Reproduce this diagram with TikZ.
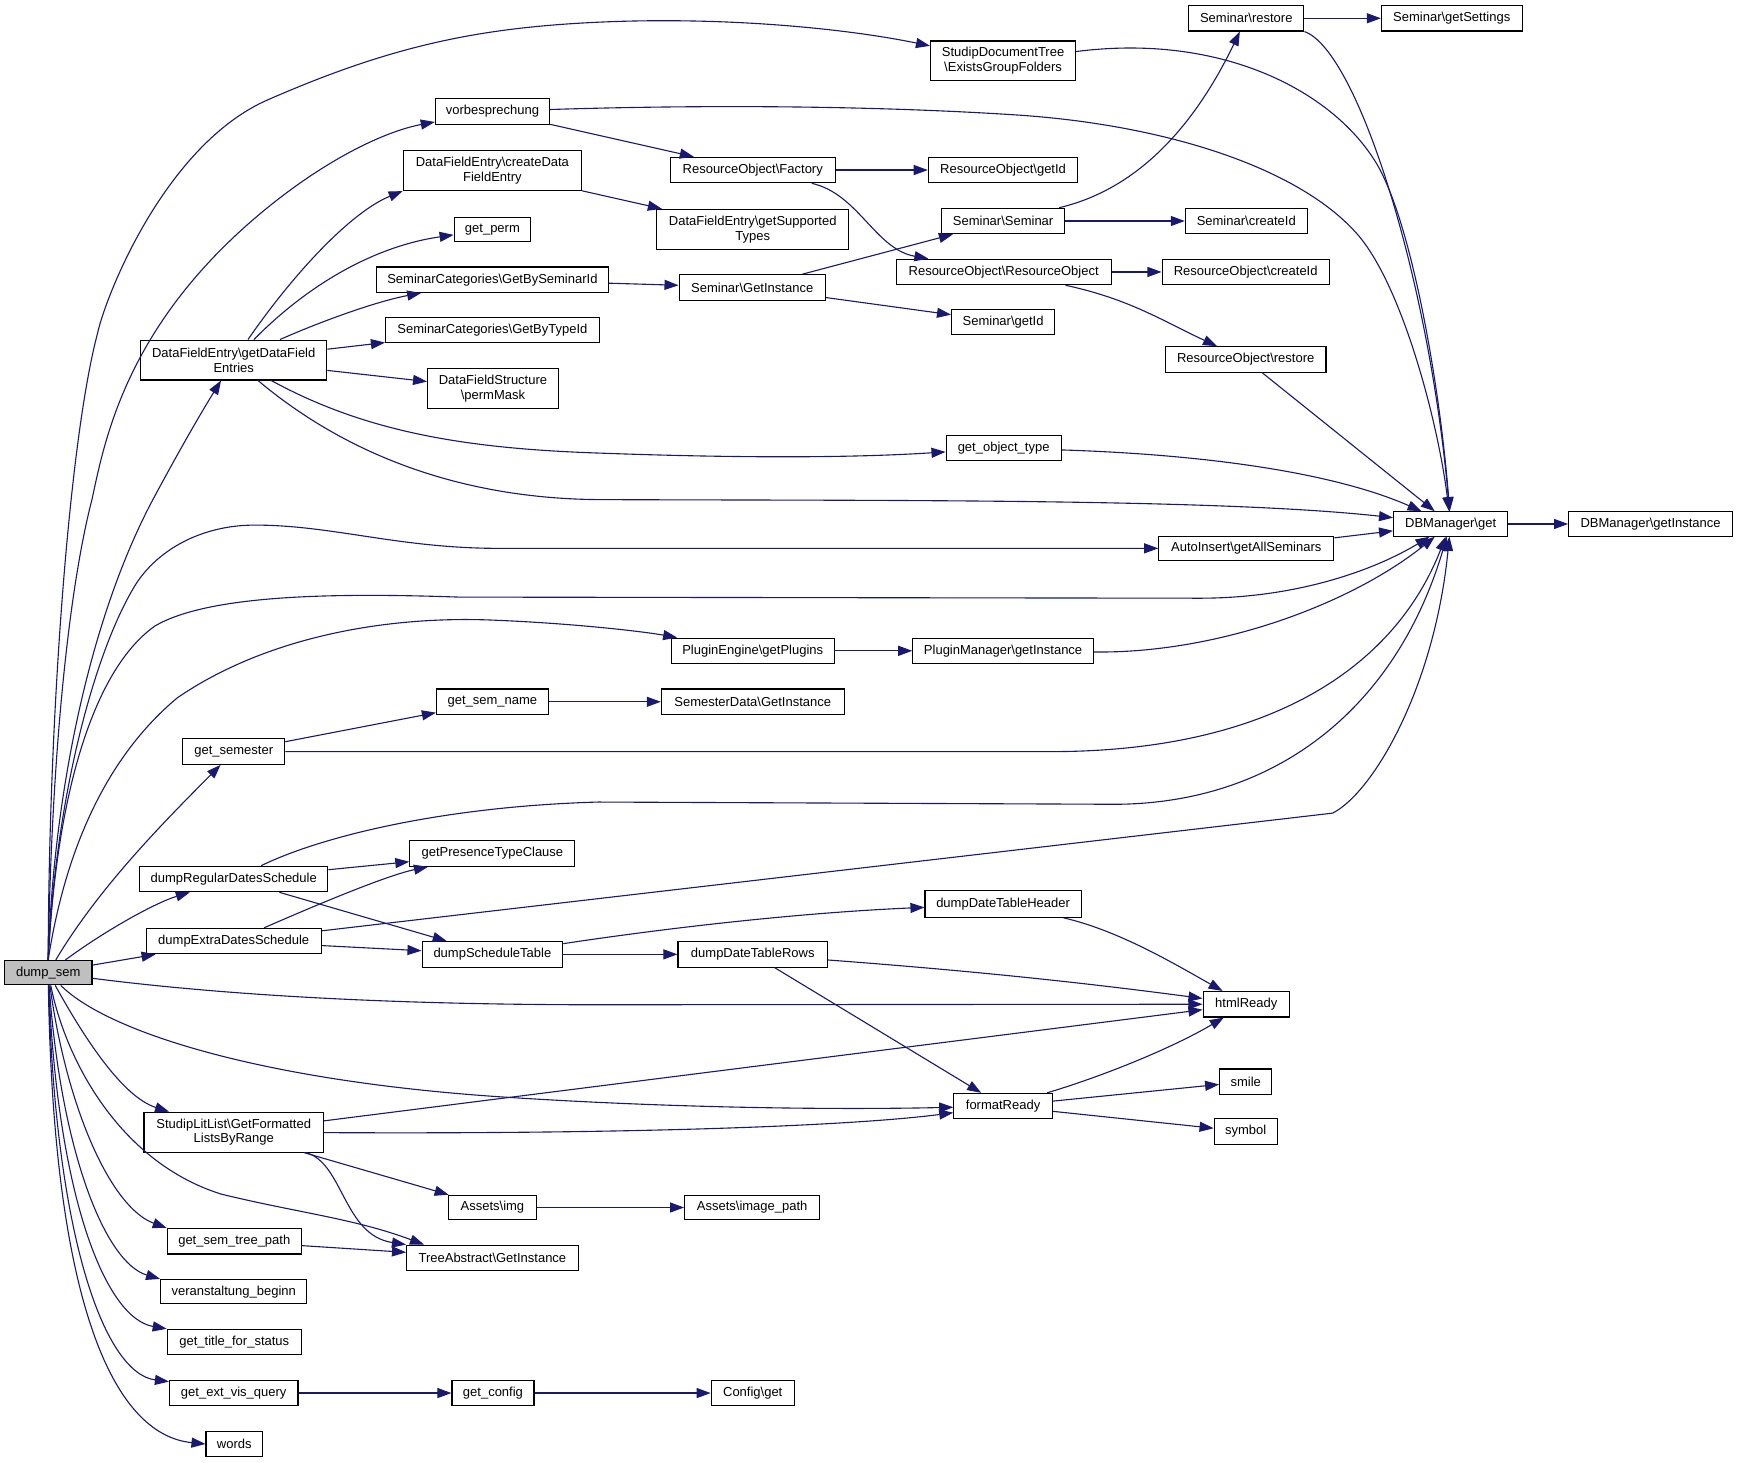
\documentclass[tikz,border=0pt]{standalone}
\usepackage{fontspec}
\setmainfont{Liberation Sans}
\usetikzlibrary{arrows.meta}
\definecolor{navy}{HTML}{191970}
\definecolor{rootgray}{HTML}{BFBFBF}
\tikzset{
  box/.style={draw=black, fill=white, line width=0.75pt, inner sep=0pt, align=center, minimum height=17.25pt, font=\fontsize{8.8}{10}\selectfont},
  root/.style={box, fill=rootgray},
  hsmall/.style={minimum height=16.5pt},
  htwo/.style={minimum height=27pt},
  callarrow/.style={draw=navy, line width=0.75pt, -{Triangle[length=9.5pt,width=6.8pt]}}
}
\begin{document}
\begin{tikzpicture}[x=0.75pt,y=-0.75pt]
\useasboundingbox (0,0) rectangle (1568,1320.6);
\fill[white] (0,0) rectangle (1568,1320.6);

% nodes
\node[root, hsmall, minimum width=59.25pt] (dump) at (43.5,878) {dump\_sem};
\node[box, htwo, minimum width=98.25pt] (edgf) at (905.5,55) {StudipDocumentTree\\\textbackslash ExistsGroupFolders};
\node[box, minimum width=77.25pt] (vorb) at (444.5,100.5) {vorbesprechung};
\node[box, htwo, minimum width=120.75pt] (cdfe) at (444.5,154) {DataFieldEntry\textbackslash createData\\FieldEntry};
\node[box, hsmall, minimum width=51.75pt] (perm) at (444.5,207) {get\_perm};
\node[box, minimum width=156.75pt] (gbsi) at (444.5,252.5) {SeminarCategories\textbackslash GetBySeminarId};
\node[box, hsmall, minimum width=144.75pt] (gbti) at (444.5,298) {SeminarCategories\textbackslash GetByTypeId};
\node[box, htwo, minimum width=88.5pt] (pmask) at (445,351) {DataFieldStructure\\\textbackslash permMask};
\node[box, htwo, minimum width=126pt] (gdfe) at (211,325) {DataFieldEntry\textbackslash getDataField\\Entries};
\node[box, minimum width=111.75pt] (rofac) at (679.5,153.5) {ResourceObject\textbackslash Factory};
\node[box, htwo, minimum width=129.75pt] (gst) at (679.5,207) {DataFieldEntry\textbackslash getSupported\\Types};
\node[box, minimum width=99pt] (sgi) at (679,259.5) {Seminar\textbackslash GetInstance};
\node[box, minimum width=101.25pt] (rogid) at (905.5,153.5) {ResourceObject\textbackslash getId};
\node[box, minimum width=83.25pt] (ss) at (905.5,199.5) {Seminar\textbackslash Seminar};
\node[box, minimum width=145.5pt] (roro) at (906,245.5) {ResourceObject\textbackslash ResourceObject};
\node[box, minimum width=69.75pt] (sgid) at (905.5,290.5) {Seminar\textbackslash getId};
\node[box, minimum width=78pt] (got) at (906,404.5) {get\_object\_type};
\node[box, minimum width=78pt] (srest) at (1125,16.5) {Seminar\textbackslash restore};
\node[box, minimum width=95.25pt] (sgs) at (1310.5,16.5) {Seminar\textbackslash getSettings};
\node[box, minimum width=82.5pt] (scid) at (1125,199.5) {Seminar\textbackslash createId};
\node[box, minimum width=113.25pt] (rocid) at (1124.5,245.5) {ResourceObject\textbackslash createId};
\node[box, minimum width=108.75pt] (rorest) at (1124.5,324.5) {ResourceObject\textbackslash restore};
\node[box, hsmall, minimum width=77.25pt] (dbget) at (1309.5,473) {DBManager\textbackslash get};
\node[box, hsmall, minimum width=111pt] (dbgi) at (1490,473) {DBManager\textbackslash getInstance};
\node[box, hsmall, minimum width=118.5pt] (auto) at (1125,495) {AutoInsert\textbackslash getAllSeminars};
\node[box, minimum width=110.25pt] (pe) at (679.5,587.5) {PluginEngine\textbackslash getPlugins};
\node[box, minimum width=122.25pt] (pm) at (905.5,587.5) {PluginManager\textbackslash getInstance};
\node[box, minimum width=75.75pt] (gsn) at (444.5,633.5) {get\_sem\_name};
\node[box, minimum width=123.75pt] (sd) at (679.5,633.5) {SemesterData\textbackslash GetInstance};
\node[box, minimum width=69pt] (gsem) at (211,678.5) {get\_semester};
\node[box, minimum width=111.75pt] (ptc) at (444.5,770.5) {getPresenceTypeClause};
\node[box, minimum width=127.5pt] (drds) at (211,793.5) {dumpRegularDatesSchedule};
\node[box, minimum width=118.5pt] (deds) at (211,849.5) {dumpExtraDatesSchedule};
\node[box, minimum width=95.25pt] (dst) at (444.5,861.5) {dumpScheduleTable};
\node[box, minimum height=18pt, minimum width=105.75pt] (ddth) at (905.5,816) {dumpDateTableHeader};
\node[box, minimum width=101.25pt] (ddtr) at (679.5,861.5) {dumpDateTableRows};
\node[box, minimum width=58.5pt] (html) at (1125,906.5) {htmlReady};
\node[box, minimum width=66.75pt] (fr) at (905.5,998.5) {formatReady};
\node[box, minimum width=35.25pt] (smile) at (1124.5,976.5) {smile};
\node[box, minimum width=42.75pt] (symbol) at (1124.5,1021.5) {symbol};
\node[box, htwo, minimum width=121.5pt] (sll) at (211,1022) {StudipLitList\textbackslash GetFormatted\\ListsByRange};
\node[box, hsmall, minimum width=59.25pt] (aimg) at (444.5,1090) {Assets\textbackslash img};
\node[box, hsmall, minimum width=91.5pt] (aip) at (679,1090) {Assets\textbackslash image\_path};
\node[box, minimum width=90.75pt] (gstp) at (211.5,1120.5) {get\_sem\_tree\_path};
\node[box, minimum width=116.25pt] (tai) at (444.5,1135.5) {TreeAbstract\textbackslash GetInstance};
\node[box, hsmall, minimum width=99pt] (vb) at (211,1166) {veranstaltung\_beginn};
\node[box, minimum width=90.75pt] (gtfs) at (211.5,1211.5) {get\_title\_for\_status};
\node[box, minimum width=87pt] (gevq) at (211,1257.5) {get\_ext\_vis\_query};
\node[box, minimum width=55.5pt] (gcfg) at (445,1257.5) {get\_config};
\node[box, minimum width=56.25pt] (cfg) at (679.5,1257.5) {Config\textbackslash get};
\node[box, minimum width=38.25pt] (words) at (211.5,1303.5) {words};

% edges from dump_sem, upward fan
\draw[callarrow] (dump.north) .. controls (44,650) and (62,400) .. (88,301) .. controls (96,265) and (150,130) .. (242,90) .. controls (352,42) and (430,25) .. (541,20) .. controls (650,15) and (760,25) .. (edgf);
\draw[callarrow] (dump.north) .. controls (46,700) and (60,540) .. (83,451) .. controls (95,395) and (115,290) .. (242,187) .. controls (299,141) and (350,118) .. (vorb);
\draw[callarrow] (dump.north) .. controls (48,720) and (80,560) .. (138,451) .. controls (160,410) and (180,375) .. (gdfe);
\draw[callarrow] (dump.north) .. controls (50,720) and (85,590) .. (121,530) .. controls (140,498) and (180,474) .. (230,474) .. controls (300,474) and (360,495) .. (450,495) -- (auto);
\draw[callarrow] (dump.north) .. controls (52,700) and (90,600) .. (140,565) .. controls (188,537) and (300,535) .. (414,539) -- (1083,540) .. controls (1170,540) and (1240,515) .. (dbget);
\draw[callarrow] (dump.north) .. controls (60,760) and (100,680) .. (160,630) .. controls (240,575) and (350,555) .. (450,560) .. controls (520,563) and (580,570) .. (pe);
\draw[callarrow] (dump) .. controls (90,800) and (150,740) .. (gsem);
\draw[callarrow] (dump) .. controls (95,840) and (140,815) .. (drds);
\draw[callarrow] (dump) -- (deds);
% edges from dump_sem, right and downward
\draw[callarrow] (dump) .. controls (200,898) and (350,907) .. (541,907) -- (html);
\draw[callarrow] (dump) .. controls (95,930) and (230,975) .. (450,990) .. controls (600,1000) and (750,1002) .. (fr);
\draw[callarrow] (dump) .. controls (75,935) and (110,990) .. (sll);
\draw[callarrow] (dump) .. controls (60,960) and (110,1050) .. (200,1078) .. controls (270,1095) and (320,1100) .. (tai.169);
\draw[callarrow] (dump) .. controls (60,1000) and (100,1090) .. (gstp.north west);
\draw[callarrow] (dump) .. controls (55,1040) and (95,1140) .. (vb.north west);
\draw[callarrow] (dump) .. controls (52,1080) and (95,1190) .. (gtfs.north west);
\draw[callarrow] (dump) .. controls (50,1120) and (95,1240) .. (gevq.170);
\draw[callarrow] (dump) .. controls (48,1170) and (100,1295) .. (words.west);

% upper part
\draw[callarrow] (vorb) -- (rofac);
\draw[callarrow] (vorb) .. controls (650,94) and (800,96) .. (921,104) .. controls (1050,113) and (1170,150) .. (1224,210) .. controls (1265,255) and (1298,380) .. (dbget);
\draw[callarrow] (edgf) .. controls (1100,30) and (1200,80) .. (1241,145) .. controls (1274,197) and (1300,350) .. (dbget);
\draw[callarrow] (cdfe) -- (gst);
\draw[callarrow] (gdfe) .. controls (270,240) and (320,190) .. (cdfe.south west);
\draw[callarrow] (gdfe) .. controls (280,255) and (340,222) .. (perm);
\draw[callarrow] (gdfe) .. controls (290,290) and (340,272) .. (gbsi);
\draw[callarrow] (gdfe) -- (gbti);
\draw[callarrow] (gdfe) -- (pmask);
\draw[callarrow] (gdfe) .. controls (330,390) and (420,405) .. (541,409) .. controls (650,413) and (760,414) .. (got);
\draw[callarrow] (gdfe) .. controls (300,400) and (400,450) .. (541,451) .. controls (800,452) and (1100,450) .. (dbget);
\draw[callarrow] (gbsi) -- (sgi);
\draw[callarrow] (rofac) -- (rogid);
\draw[callarrow] (rofac) .. controls (775,175) and (790,225) .. (roro);
\draw[callarrow] (sgi) -- (ss);
\draw[callarrow] (sgi) -- (sgid);
\draw[callarrow] (ss) .. controls (1030,170) and (1080,110) .. (srest);
\draw[callarrow] (ss) -- (scid);
\draw[callarrow] (roro) -- (rocid);
\draw[callarrow] (roro) .. controls (1020,270) and (1050,290) .. (rorest);
\draw[callarrow] (srest) -- (sgs);
\draw[callarrow] (srest.south east) .. controls (1225,45) and (1290,250) .. (dbget);
\draw[callarrow] (rorest) -- (dbget);
\draw[callarrow] (got) .. controls (1080,410) and (1200,425) .. (dbget);
\draw[callarrow] (auto) -- (dbget);
\draw[callarrow] (dbget) -- (dbgi);

% middle part
\draw[callarrow] (pe) -- (pm);
\draw[callarrow] (pm) .. controls (1100,590) and (1220,545) .. (dbget);
\draw[callarrow] (gsem) -- (gsn);
\draw[callarrow] (gsn) -- (sd);
\draw[callarrow] (gsem) -- (950,678.5) .. controls (1150,678) and (1260,600) .. (dbget);
\draw[callarrow] (drds) -- (ptc);
\draw[callarrow] (drds) -- (dst);
\draw[callarrow] (drds) .. controls (290,755) and (400,728) .. (540,724) -- (1000,726) .. controls (1150,728) and (1260,640) .. (dbget);
\draw[callarrow] (deds) .. controls (290,815) and (350,790) .. (ptc);
\draw[callarrow] (deds) -- (dst);
\draw[callarrow] (deds) -- (1203,734) .. controls (1240,715) and (1295,620) .. (dbget);
\draw[callarrow] (dst) .. controls (600,838) and (720,824) .. (ddth);
\draw[callarrow] (dst) -- (ddtr);
\draw[callarrow] (ddth) .. controls (1010,840) and (1060,870) .. (html);
\draw[callarrow] (ddtr) .. controls (900,878) and (1000,890) .. (html);
\draw[callarrow] (ddtr) -- (fr);
\draw[callarrow] (fr) .. controls (1000,970) and (1060,945) .. (html);
\draw[callarrow] (fr) -- (smile);
\draw[callarrow] (fr) -- (symbol);

% lower part
\draw[callarrow] (sll) -- (html);
\draw[callarrow] (sll) .. controls (600,1024) and (780,1015) .. (fr);
\draw[callarrow] (sll) -- (aimg);
\draw[callarrow] (sll) .. controls (310,1050) and (310,1115) .. (tai.north west);
\draw[callarrow] (aimg) -- (aip);
\draw[callarrow] (gstp) -- (tai);
\draw[callarrow] (gevq) -- (gcfg);
\draw[callarrow] (gcfg) -- (cfg);
\end{tikzpicture}
\end{document}
